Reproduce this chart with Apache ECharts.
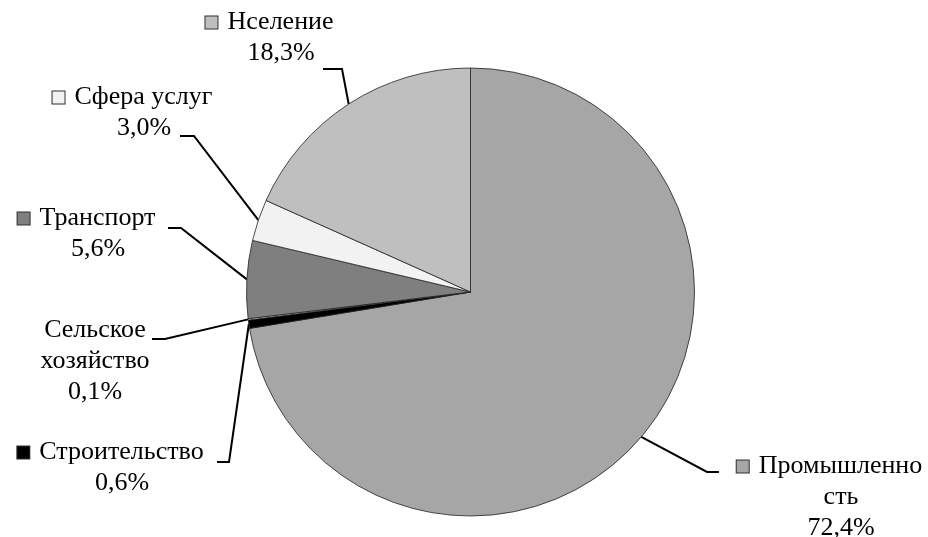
<!DOCTYPE html>
<html>
<head>
<meta charset="utf-8">
<script src="https://cdn.jsdelivr.net/npm/echarts@6/dist/echarts.min.js"></script>
<style>
  html, body { margin: 0; padding: 0; background: #ffffff; }
  #chart { width: 928px; height: 537px; }
</style>
</head>
<body>
<div id="chart"></div>
<script>
// Структура потребления по отраслям, %
const sectors = ['Промышленность', 'Строительство', 'Сельское хозяйство', 'Транспорт', 'Сфера услуг', 'Нселение'];
const shares = [72.4, 0.6, 0.1, 5.6, 3.0, 18.3];
const labelNames = ['Промышленно\nсть', 'Строительство', 'Сельское\nхозяйство', 'Транспорт', 'Сфера услуг', 'Нселение'];
const showKey = [true, true, false, true, true, true];
const sliceColors = ['#a6a6a6', '#000000', '#ffffff', '#7f7f7f', '#f2f2f2', '#bfbfbf'];

// Pie geometry
const PIE_CX = 470.5, PIE_CY = 292, PIE_R = 224;

// Label placement: text centre x, block top y, leader elbow and end
const labelSpots = [
  { x: 841, y: 451, elbow: [707, 472], end: [719, 472] },
  { x: 122, y: 437, elbow: [229, 462], end: [217, 462] },
  { x: 95,  y: 315, elbow: [165, 339], end: [152, 339] },
  { x: 98,  y: 203, elbow: [181, 228], end: [168, 228] },
  { x: 144, y: 82,  elbow: [194, 136], end: [180, 136] },
  { x: 281, y: 7,   elbow: [342, 69],  end: [323, 69] }
];

// Mid-angle point on the pie rim for each slice (start at 12 o'clock, clockwise)
const total = shares.reduce((a, b) => a + b, 0);
const rimPoints = [];
let cum = 0;
shares.forEach(v => {
  const mid = (cum + v / 2) / total * 2 * Math.PI;
  rimPoints.push([PIE_CX + PIE_R * Math.sin(mid), PIE_CY - PIE_R * Math.cos(mid)]);
  cum += v;
});

const fmtPct = v => v.toFixed(1).replace('.', ',') + '%';

const chart = echarts.init(document.getElementById('chart'), null, { renderer: 'canvas' });

const FONT = 'Liberation Serif';
const FS = 26;
const LH = 31;

chart.setOption({
  backgroundColor: '#ffffff',
  animation: false,
  series: [{
    type: 'pie',
    center: [PIE_CX, PIE_CY],
    radius: [0, PIE_R],
    startAngle: 90,
    clockwise: true,
    avoidLabelOverlap: false,
    data: sectors.map((name, i) => ({
      name: name,
      value: shares[i],
      itemStyle: { color: sliceColors[i] }
    })),
    itemStyle: { borderColor: '#222222', borderWidth: 0.8 },
    emphasis: { disabled: true },
    label: {
      show: true,
      position: 'outside',
      color: '#000000',
      fontFamily: FONT,
      fontSize: FS,
      lineHeight: LH,
      align: 'center',
      formatter: p => {
        const i = p.dataIndex;
        const lines = labelNames[i].split('\n').map(s => '{t|' + s + '}');
        if (showKey[i]) {
          lines[0] = '{k' + i + '|}{g| }' + lines[0] + '{sp| }';
        }
        lines.push('{t|' + fmtPct(p.value) + '}');
        return lines.join('\n');
      },
      rich: Object.assign({
        t: { fontFamily: FONT, fontSize: FS, lineHeight: LH, color: '#000000', align: 'center' },
        g: { width: 10, fontSize: FS, lineHeight: LH, align: 'center' },
        sp: { width: 23, fontSize: FS, lineHeight: LH, align: 'center' }
      }, Object.fromEntries(sliceColors.map((c, i) => ['k' + i, {
        width: 12, height: 12, backgroundColor: c,
        borderColor: '#303030', borderWidth: 1, align: 'center', verticalAlign: 'middle'
      }])))
    },
    labelLine: {
      show: true,
      lineStyle: { color: '#000000', width: 2 }
    },
    labelLayout: params => {
      const i = params.dataIndex;
      const s = labelSpots[i];
      return {
        x: s.x,
        y: s.y,
        align: 'center',
        verticalAlign: 'top',
        labelLinePoints: [rimPoints[i], s.elbow, s.end]
      };
    }
  }]
});
</script>
</body>
</html>
